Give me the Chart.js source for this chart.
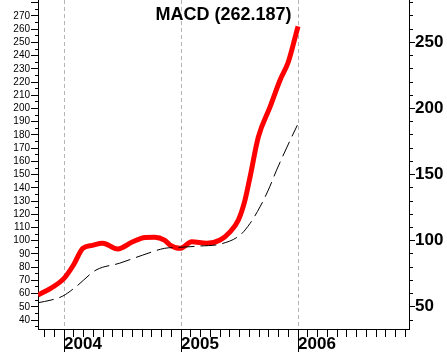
<!DOCTYPE html>
<html>
<head>
<meta charset="utf-8">
<script src="https://cdn.jsdelivr.net/npm/chart.js@4.4.1/dist/chart.umd.min.js"></script>
<style>
  html, body { margin: 0; padding: 0; background: #fff; }
  #wrap { width: 447px; height: 354px; position: relative; }
</style>
</head>
<body>
<div id="wrap"><canvas id="chart"></canvas></div>
<script>
// x is counted in months from Jan 2004 (0 = 2004, 12 = 2005, 24 = 2006)
const macdMonths = [-2.67, -1.33, 0, 1.0, 1.92, 2.9, 3.97, 5.51, 7.05, 8.3, 9.3, 10.3, 10.87, 11.9, 13.1, 14.64, 16, 17.03, 17.88, 18.56, 19.08, 19.93, 21.13, 22.15, 23.0, 24.0];
const macdValues = [58.9, 64.2, 71.5, 82, 94.2, 96.5, 98, 93.7, 99.2, 102.5, 102.7, 100.5, 96.7, 94.2, 99.2, 98, 100.5, 106.7, 115.6, 130.7, 148.3, 178.5, 201.2, 221.4, 235.2, 262.187];

const signalMonths = [-2.67, -1.33, -0.13, 1.23, 3.28, 5.67, 8.07, 10.29, 11.9, 14, 16, 18.05, 19.08, 20.1, 20.95, 21.8, 23.35, 23.93];
const signalValues = [53.1, 55.1, 58.1, 65.2, 77.8, 82.9, 89.1, 94.2, 95, 96, 97.4, 104.2, 113.1, 125.6, 138.3, 153.4, 178.5, 187.4];

const firstYear = 2004;
const lastMacd = '262.187';

const FONT = '"Liberation Sans", Arial, sans-serif';

const toPoints = (xs, ys) => xs.map((x, i) => ({ x: x, y: ys[i] }));
const isYear = v => Math.round(v) % 12 === 0;
const tickVal = ctx => (ctx.tick ? Math.round(ctx.tick.value) : 0);

// force exact axis sizes so the plot area matches the picture
const fixWidth = w => s => { s.width = w; s.paddingTop = 0; s.paddingBottom = 0; };
const fixHeight = h => s => { s.height = h; s.paddingLeft = 0; s.paddingRight = 0; };

const titlePlugin = {
  id: 'macdTitle',
  afterDraw(chart) {
    const c = chart.ctx;
    const a = chart.chartArea;
    c.save();
    c.font = 'bold 18px ' + FONT;
    c.fillStyle = '#000';
    c.textAlign = 'center';
    c.textBaseline = 'alphabetic';
    c.fillText('MACD (' + lastMacd + ')', (a.left + a.right) / 2, 20);
    c.restore();
  }
};

new Chart(document.getElementById('chart'), {
  type: 'line',
  data: {
    datasets: [{
      label: 'Signal',
      data: toPoints(signalMonths, signalValues),
      borderColor: '#000',
      borderWidth: 1,
      borderDash: [16, 6],
      pointRadius: 0,
      cubicInterpolationMode: 'monotone',
      yAxisID: 'y'
    }, {
      label: 'MACD',
      data: toPoints(macdMonths, macdValues),
      borderColor: '#ff0000',
      borderWidth: 5,
      pointRadius: 0,
      cubicInterpolationMode: 'monotone',
      yAxisID: 'y'
    }]
  },
  options: {
    responsive: true,
    maintainAspectRatio: false,
    animation: false,
    layout: { padding: 0 },
    plugins: {
      legend: { display: false },
      tooltip: { enabled: false }
    },
    scales: {
      x: {
        type: 'linear',
        min: -2.67,
        max: 35.38,
        afterFit: fixHeight(25),
        grid: {
          color: ctx => (ctx.tick && isYear(ctx.tick.value)) ? '#b4b4b4' : 'rgba(0,0,0,0)',
          tickColor: '#000',
          tickLength: 23,
          tickBorderDash: ctx => isYear(tickVal(ctx)) ? [] : [7, 60]
        },
        border: { color: '#000', dash: [4, 3] },
        ticks: {
          stepSize: 1,
          includeBounds: false,
          autoSkip: false,
          maxRotation: 0,
          align: 'start',
          padding: -18,
          color: '#000',
          font: { family: FONT, size: 17, weight: 'bold' },
          callback: v => isYear(v) ? String(firstYear + Math.round(v) / 12) : ''
        }
      },
      y: {
        position: 'left',
        min: 33.2,
        max: 282.1,
        afterFit: fixWidth(38),
        grid: {
          drawOnChartArea: false,
          tickColor: '#000',
          tickLength: 7,
          tickBorderDash: ctx => tickVal(ctx) % 10 !== 0 ? [0, 4, 3, 60] : []
        },
        border: { color: '#000' },
        ticks: {
          stepSize: 5,
          includeBounds: false,
          autoSkip: false,
          padding: 1,
          color: '#000',
          font: { family: FONT, size: 10 },
          callback: v => (Math.round(v) % 10 === 0 && v < 275) ? String(v) : ''
        }
      },
      y2: {
        position: 'right',
        min: 33.2,
        max: 282.1,
        afterFit: fixWidth(38),
        grid: {
          drawOnChartArea: false,
          tickColor: '#000',
          tickLength: 6,
          tickBorderDash: ctx => tickVal(ctx) % 50 !== 0 ? [3, 60] : []
        },
        border: { color: '#000' },
        ticks: {
          stepSize: 10,
          includeBounds: false,
          autoSkip: false,
          padding: 0,
          color: '#000',
          font: { family: FONT, size: 17, weight: 'bold' },
          callback: v => Math.round(v) % 50 === 0 ? String(v) : ''
        }
      }
    }
  },
  plugins: [titlePlugin]
});
</script>
</body>
</html>
